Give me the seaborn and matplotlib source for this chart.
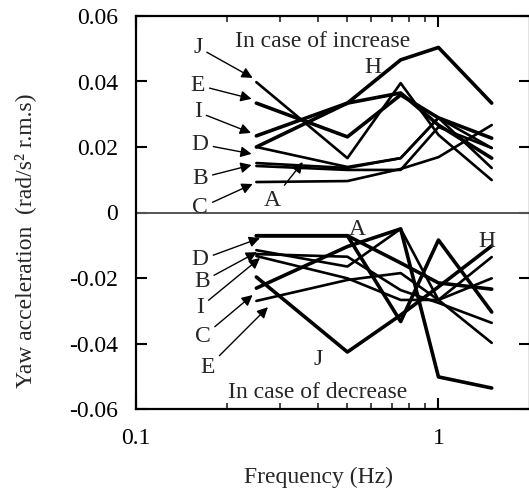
import matplotlib
matplotlib.use("Agg")
import matplotlib.pyplot as plt
import seaborn as sns
import pandas as pd
import numpy as np

# ---- data ----
freq = [0.25, 0.5, 0.75, 1.0, 1.5]

inc_H = [0.0234, 0.0334, 0.0466, 0.0504, 0.0334]
inc_E = [0.0334, 0.0231, 0.0359, 0.0289, 0.0227]
inc_I = [0.0200, 0.0334, 0.0365, 0.0267, 0.0166]
inc_J = [0.0398, 0.0166, 0.0395, 0.0237, 0.0099]
inc_D = [0.0200, 0.0139, 0.0166, 0.0289, 0.0136]
inc_A = [0.0151, 0.0136, 0.0166, 0.0289, 0.0197]
inc_B = [0.0142, 0.0130, 0.0130, 0.0261, 0.0197]
inc_C = [0.0093, 0.0096, 0.0133, 0.0169, 0.0267]

dec_A = [-0.0071, -0.0071, -0.0154, -0.0215, -0.0234]
dec_D = [-0.0071, -0.0071, -0.0333, -0.0084, -0.0304]
dec_B = [-0.0115, -0.0165, -0.0050, -0.0267, -0.0398]
dec_I = [-0.0127, -0.0135, -0.0237, -0.0276, -0.0337]
dec_H = [-0.0133, -0.0201, -0.0267, -0.0267, -0.0136]
dec_C = [-0.0231, -0.0104, -0.0050, -0.0502, -0.0536]
dec_E = [-0.0270, -0.0206, -0.0185, -0.0267, -0.0201]
dec_J = [-0.0197, -0.0426, -0.0313, -0.0227, -0.0102]

series = {
    "inc_H": inc_H, "inc_E": inc_E, "inc_I": inc_I, "inc_J": inc_J,
    "inc_D": inc_D, "inc_A": inc_A, "inc_B": inc_B, "inc_C": inc_C,
    "dec_A": dec_A, "dec_D": dec_D, "dec_B": dec_B, "dec_I": dec_I,
    "dec_H": dec_H, "dec_C": dec_C, "dec_E": dec_E, "dec_J": dec_J,
}
thick = {"inc_H", "inc_I", "inc_E", "dec_A", "dec_D", "dec_J", "dec_C"}

yticks = [-0.06, -0.04, -0.02, 0, 0.02, 0.04, 0.06]
ytick_labels = ["-0.06", "-0.04", "-0.02", "0", "0.02", "0.04", "0.06"]
xticks = [0.1, 1]
xtick_labels = ["0.1", "1"]

# ---- style ----
sns.set_style("ticks")
plt.rcParams["font.family"] = ["Liberation Serif", "DejaVu Serif"]
plt.rcParams["font.size"] = 17

fig = plt.figure(figsize=(5.29, 4.93), dpi=100)
ax = fig.add_axes([136 / 529, 1 - 409 / 493, (529.5 - 136) / 529, (409 - 16) / 493])

rows = []
for name, vals in series.items():
    for f, v in zip(freq, vals):
        rows.append({"series": name, "freq": f, "value": v})
df = pd.DataFrame(rows)

for name in series:
    sub = df[df["series"] == name]
    sns.lineplot(data=sub, x="freq", y="value", ax=ax, color="black",
                 lw=2.6 if name in thick else 1.9, estimator=None, sort=False,
                 legend=False)

ax.axhline(0, color="#555555", lw=1.4, zorder=1)

ax.set_xscale("log")
ax.set_xlim(0.1, 2.0)
ax.set_ylim(-0.06, 0.06)
ax.set_xticks(xticks)
ax.set_xticklabels(xtick_labels)
ax.set_yticks(yticks)
ax.set_yticklabels(ytick_labels)
ax.xaxis.set_minor_locator(matplotlib.ticker.LogLocator(base=10, subs=np.arange(2, 10)))
ax.xaxis.set_minor_formatter(matplotlib.ticker.NullFormatter())

ax.tick_params(axis="both", which="major", direction="in", length=8, width=1.5,
               top=True, right=True, labelsize=17, colors="black")
ax.tick_params(axis="x", which="major", pad=14)
ax.tick_params(axis="y", which="major", pad=13)
ax.tick_params(axis="x", which="minor", direction="in", length=4, width=1.2,
               top=True)
for s in ax.spines.values():
    s.set_linewidth(1.6)
    s.set_color("black")

ax.set_xlabel("Frequency (Hz)", fontsize=17)
ax.set_ylabel("Yaw acceleration  (rad/s\u00b2 r.m.s)", fontsize=17)
ax.xaxis.set_label_coords(0.465, -0.175)
ax.xaxis.label.set_va("center")
ax.yaxis.set_label_coords(-0.282, 0.427)
ax.yaxis.label.set_va("center")

ap = dict(arrowstyle="-|>", lw=1.0, color="black", mutation_scale=16,
          shrinkA=1, shrinkB=0)

# increase-side labels
inc_labels = [
    ("J", (0.160, 0.0505), (0.243, 0.0411)),
    ("E", (0.160, 0.0389), (0.241, 0.0347)),
    ("I", (0.160, 0.0307), (0.240, 0.0243)),
    ("D", (0.163, 0.0209), (0.241, 0.0179)),
    ("B", (0.163, 0.0105), (0.241, 0.0145)),
    ("C", (0.163, 0.0014), (0.243, 0.0087)),
    ("A", (0.283, 0.0038), (0.356, 0.0154)),
]
for t, xyt, xy in inc_labels:
    ax.annotate(t, xy=xy, xytext=xyt, ha="center", va="center", fontsize=17,
                arrowprops=ap)

dec_labels = [
    ("D", (0.163, -0.0145), (0.257, -0.0078)),
    ("B", (0.165, -0.0212), (0.251, -0.0121)),
    ("I", (0.163, -0.0289), (0.257, -0.0139)),
    ("C", (0.166, -0.0380), (0.243, -0.0252)),
    ("E", (0.173, -0.0472), (0.273, -0.0289)),
]
for t, xyt, xy in dec_labels:
    ax.annotate(t, xy=xy, xytext=xyt, ha="center", va="center", fontsize=17,
                arrowprops=ap)

ax.text(0.606, 0.0444, "H", ha="center", va="center", fontsize=17)
ax.text(0.540, -0.0053, "A", ha="center", va="center", fontsize=17)
ax.text(1.45, -0.0090, "H", ha="center", va="center", fontsize=17)
ax.text(0.399, -0.0450, "J", ha="center", va="center", fontsize=17)
ax.text(0.414, 0.0521, "In case of increase", ha="center", va="center", fontsize=17)
ax.text(0.399, -0.0551, "In case of decrease", ha="center", va="center", fontsize=17)

fig.savefig("out.png", dpi=100)
